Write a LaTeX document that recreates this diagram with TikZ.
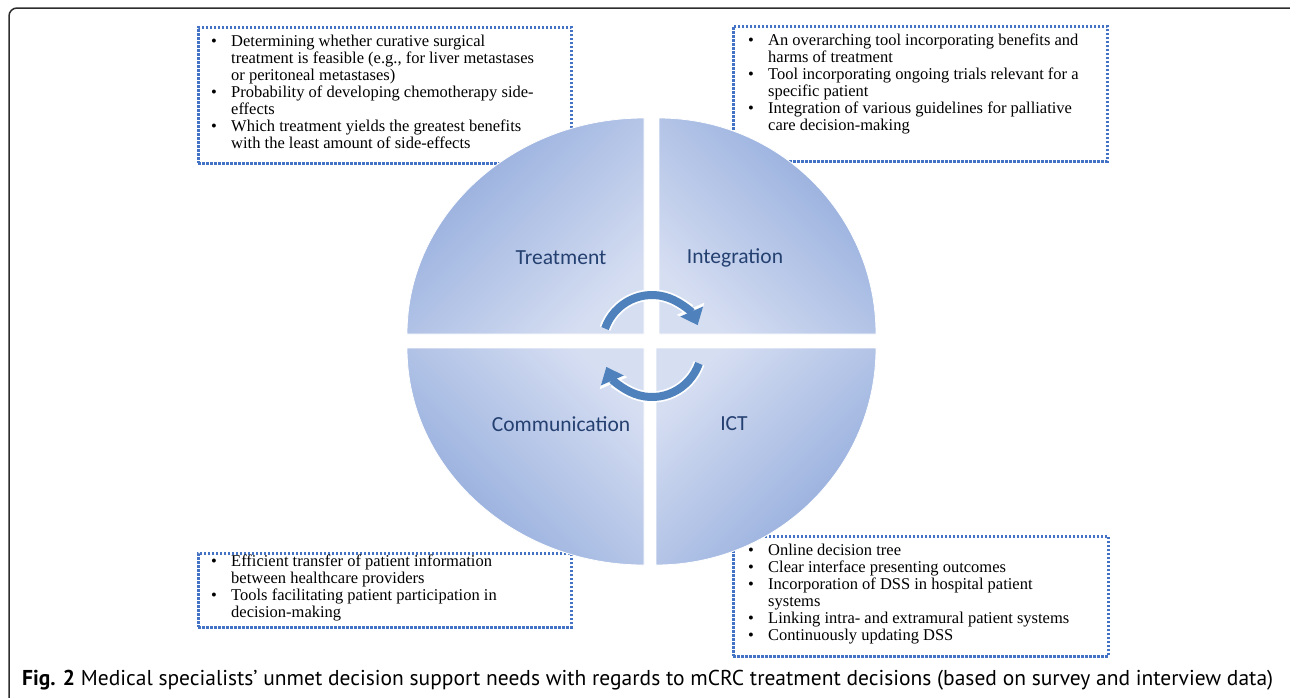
\documentclass[tikz,border=0pt]{standalone}
\usepackage{fontspec}
\setmainfont{Liberation Serif}
\newfontfamily\labelfont{Carlito}
\newfontfamily\capfont{PT Sans}
\usepackage{xcolor}
\usetikzlibrary{positioning, arrows.meta}

\definecolor{dotblue}{RGB}{68,114,196}
\definecolor{quaddark}{RGB}{143,169,219}
\definecolor{quadlight}{RGB}{214,222,242}
\definecolor{labelblue}{RGB}{36,64,112}
\definecolor{arrowblue}{RGB}{79,129,189}
\definecolor{framegray}{RGB}{45,45,45}

\newcommand{\needitem}{\makebox[20pt][l]{\textbullet}}
\newcommand{\needgap}{\hspace*{20pt}}

\tikzset{
    needbox/.style={draw=dotblue, line width=2.5pt, dash pattern=on 2.6pt off 1.4pt, inner sep=0pt, anchor=north west},
    needtext/.style={anchor=north west, inner sep=0pt, align=left, font=\fontsize{16.5}{16.9}\selectfont},
    quadrant/.style={draw=white, line width=0.8pt, top color=quaddark, bottom color=quadlight},
    quadlabel/.style={font=\labelfont\fontsize{21.5}{24}\selectfont, text=labelblue},
    arrowback/.style={draw=white, line width=11.5pt, -{Triangle[width=29pt,length=18pt]}},
    arrowfront/.style={draw=arrowblue, line width=8pt, -{Triangle[width=24pt,length=15pt]}}
}

\begin{document}
\begin{tikzpicture}[x=1pt, y=1pt]
    \clip (0,0) rectangle (1290,-697);
    \fill[white] (0,0) rectangle (1290,-697);
    \draw[framegray, line width=1.5pt, rounded corners=8pt] (9,-8) rectangle (1297,-720);

    % boxes with the needs
    \node[needbox, minimum width=373, minimum height=136] (treatbox) at (197,-26) {};
    \node[needbox, minimum width=374, minimum height=135] (integbox) at (732,-25) {};
    \node[needbox, minimum width=373, minimum height=74] (commbox) at (197,-552) {};
    \node[needbox, minimum width=375, minimum height=120] (ictbox) at (732,-535) {};

    \node[needtext] (treattext) at ([xshift=14, yshift=-9]treatbox.north west) {%
        \needitem Determining whether curative surgical\\
        \needgap treatment is feasible (e.g., for liver metastases\\
        \needgap or peritoneal metastases)\\
        \needitem Probability of developing chemotherapy side-\\
        \needgap effects\\
        \needitem Which treatment yields the greatest benefits\\
        \needgap with the least amount of side-effects};
    \node[needtext] (integtext) at ([xshift=16, yshift=-9]integbox.north west) {%
        \needitem An overarching tool incorporating benefits and\\
        \needgap harms of treatment\\
        \needitem Tool incorporating ongoing trials relevant for a\\
        \needgap specific patient\\
        \needitem Integration of various guidelines for palliative\\
        \needgap care decision-making};
    \node[needtext] (commtext) at ([xshift=14, yshift=-3]commbox.north west) {%
        \needitem Efficient transfer of patient information\\
        \needgap between healthcare providers\\
        \needitem Tools facilitating patient participation in\\
        \needgap decision-making};
    \node[needtext] (icttext) at ([xshift=16, yshift=-9]ictbox.north west) {%
        \needitem Online decision tree\\
        \needitem Clear interface presenting outcomes\\
        \needitem Incorporation of DSS in hospital patient\\
        \needgap systems\\
        \needitem Linking intra- and extramural patient systems\\
        \needitem Continuously updating DSS};

    % the four quadrants
    \shade[quadrant, shading angle=45] (644,-334) -- ++(-237,0) arc[start angle=180, end angle=90, x radius=237, y radius=216] -- cycle;
    \shade[quadrant, shading angle=-45] (659,-334) -- ++(0,216) arc[start angle=90, end angle=0, x radius=217, y radius=216] -- cycle;
    \shade[quadrant, shading angle=135] (644,-348) -- ++(-237,0) arc[start angle=180, end angle=270, x radius=237, y radius=217] -- cycle;
    \shade[quadrant, shading angle=-135] (656,-348) -- ++(220,0) arc[start angle=0, end angle=-90, x radius=220, y radius=217] -- cycle;

    \node[quadlabel] (treatlabel) at (561,-258) {Treatment};
    \node[quadlabel] (integlabel) at (735,-258) {Integration};
    \node[quadlabel] (commlabel) at (561,-424) {Communication};
    \node[quadlabel] (ictlabel) at (734,-424) {ICT};

    % cycle arrows
    \coordinate (cyc) at (652,-346);
    \draw[arrowback] ([shift={(160:50 and 51)}]cyc) arc[start angle=160, end angle=24, x radius=50, y radius=51];
    \draw[arrowfront] ([shift={(160:50 and 51)}]cyc) arc[start angle=160, end angle=24, x radius=50, y radius=51];
    \draw[arrowback] ([shift={(-20:50 and 51)}]cyc) arc[start angle=-20, end angle=-156, x radius=50, y radius=51];
    \draw[arrowfront] ([shift={(-20:50 and 51)}]cyc) arc[start angle=-20, end angle=-156, x radius=50, y radius=51];

    \node[anchor=west, inner sep=0pt, font=\capfont\fontsize{21.5}{24}\selectfont] (caption) at (22,-680)
        {\textbf{Fig. 2} Medical specialists’ unmet decision support needs with regards to mCRC treatment decisions (based on survey and interview data)};
\end{tikzpicture}
\end{document}
